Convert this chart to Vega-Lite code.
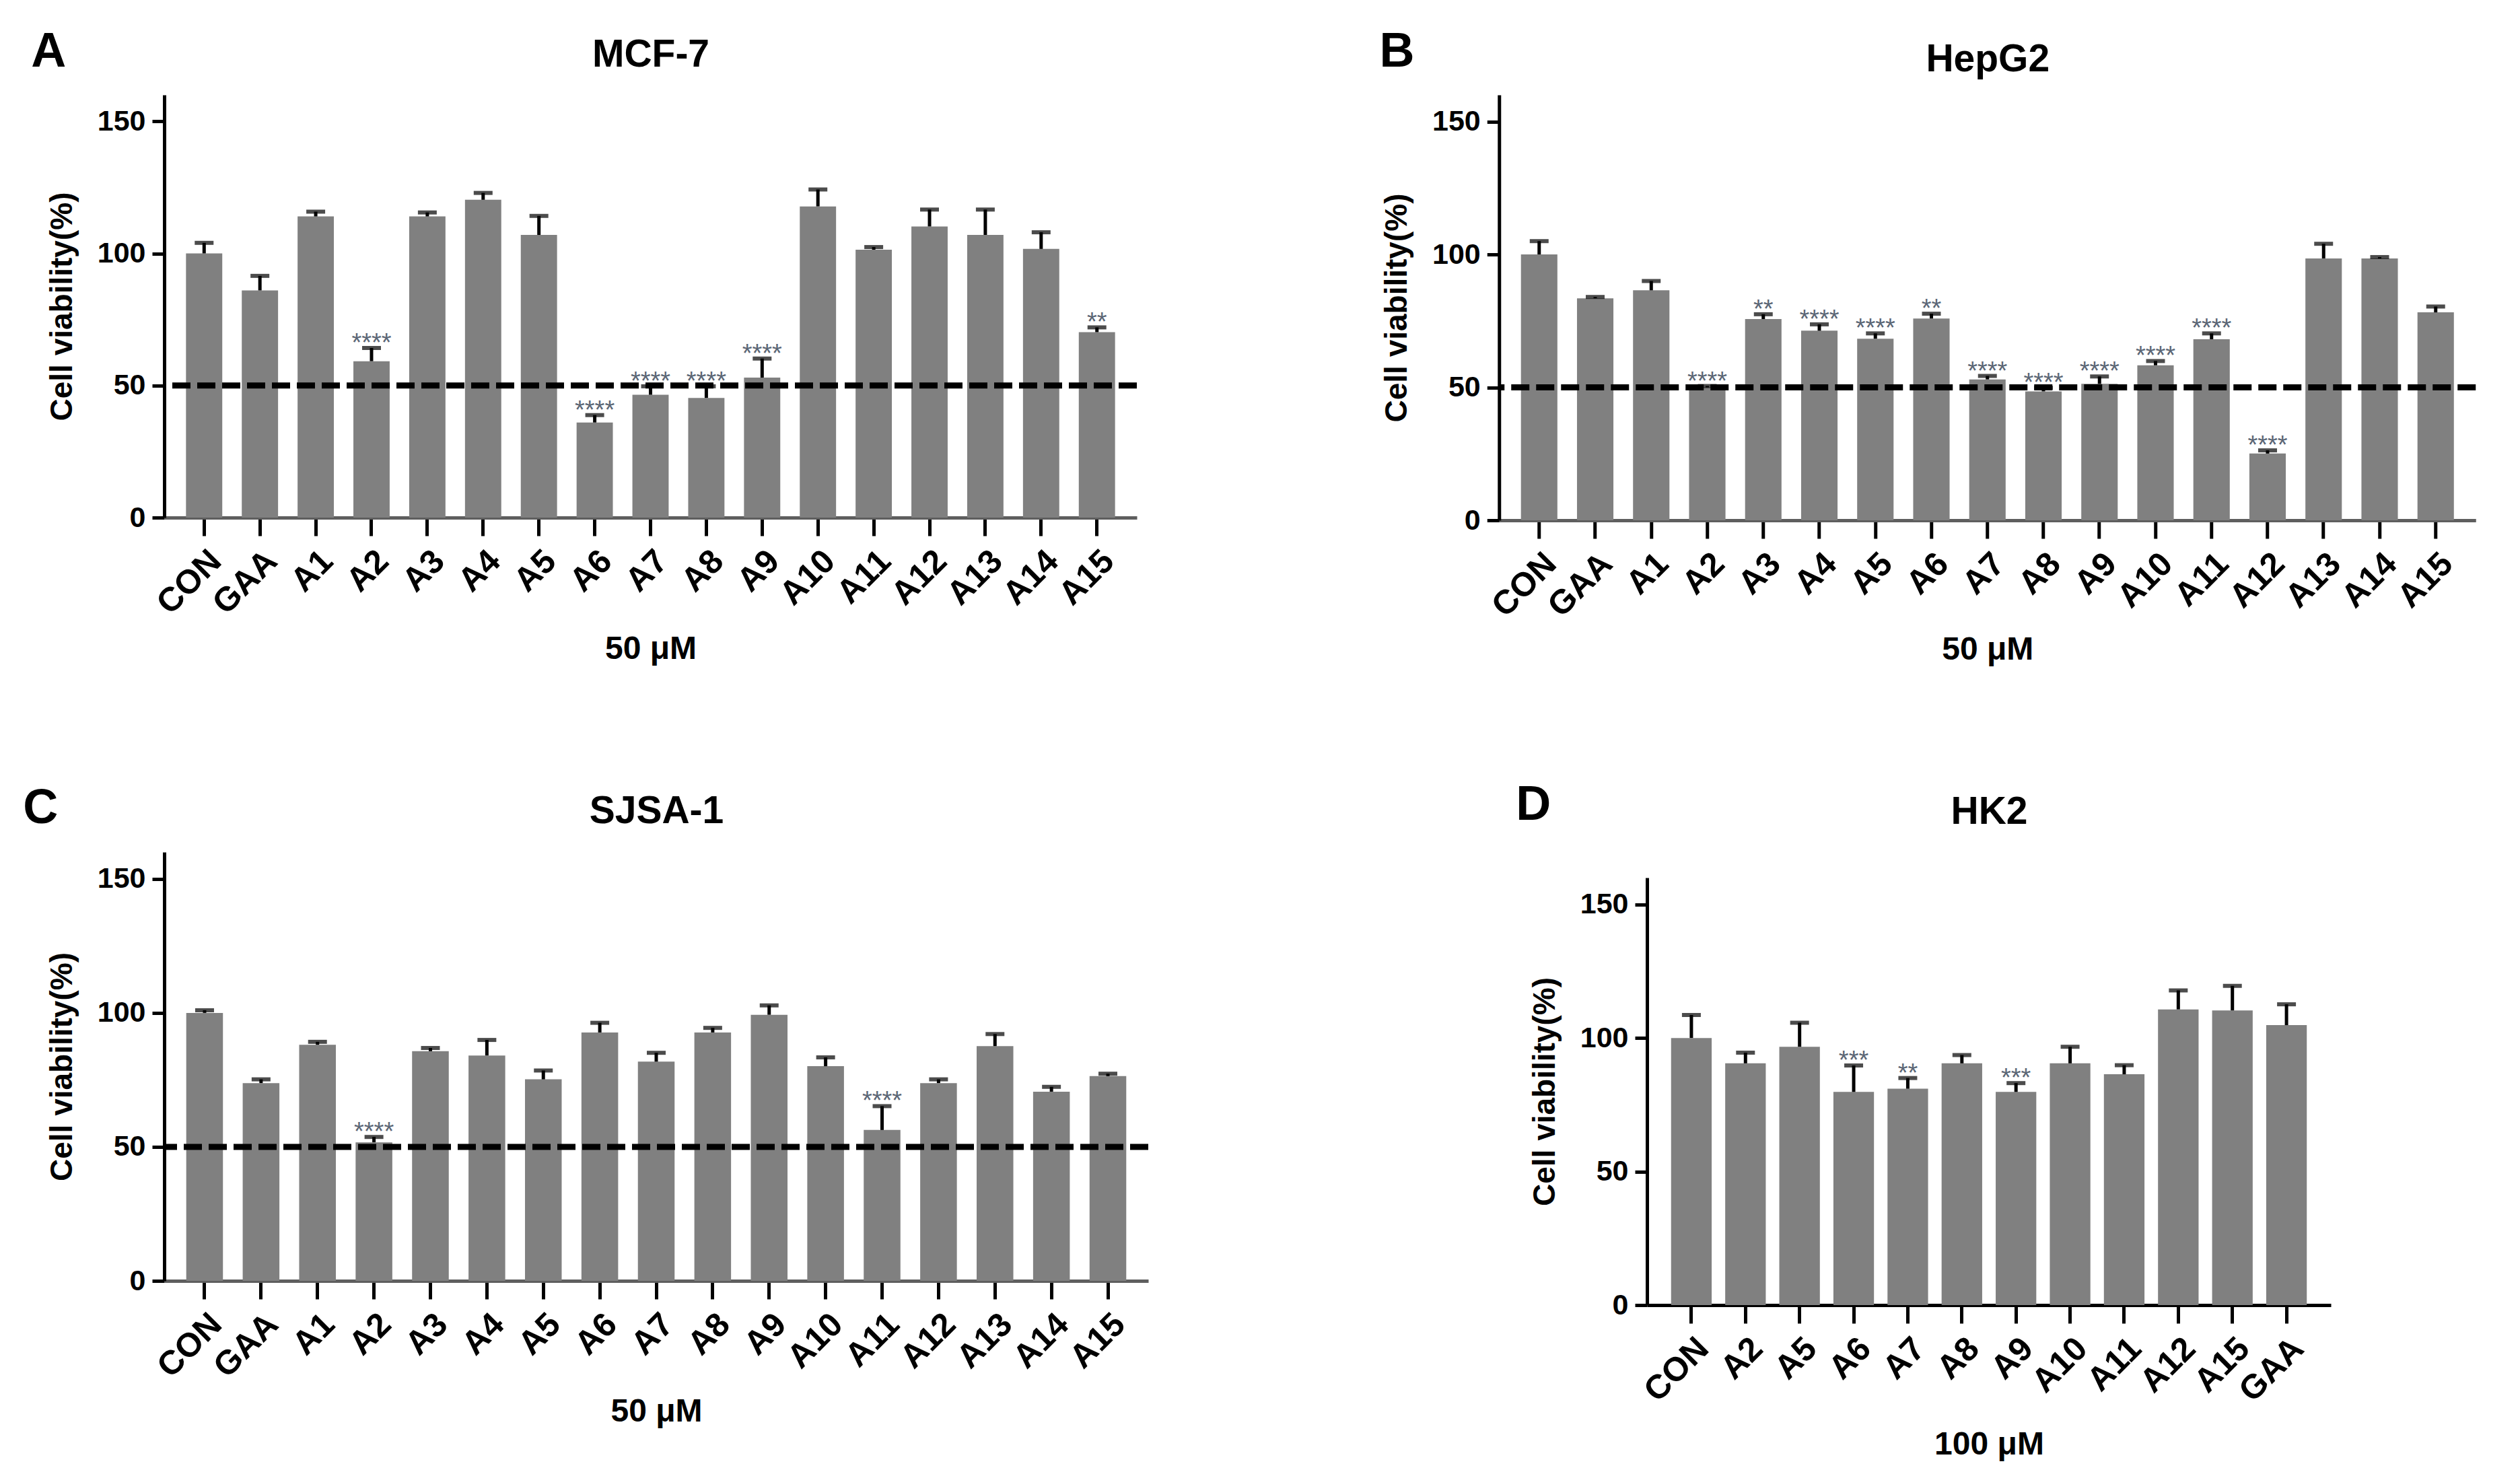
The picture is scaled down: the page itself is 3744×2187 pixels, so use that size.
{
  "$schema": "https://vega.github.io/schema/vega-lite/v6.json",
  "background": "white",
  "padding": {"left": 34, "top": 41, "right": 5, "bottom": 5},
  "datasets": {
    "mcf7": [
      {"g": "CON", "v": 100, "e": 104, "s": ""},
      {"g": "GAA", "v": 86, "e": 91.5, "s": ""},
      {"g": "A1", "v": 114, "e": 115.8, "s": ""},
      {"g": "A2", "v": 59.2, "e": 64.2, "s": "****"},
      {"g": "A3", "v": 114, "e": 115.5, "s": ""},
      {"g": "A4", "v": 120.3, "e": 122.9, "s": ""},
      {"g": "A5", "v": 107, "e": 114.2, "s": ""},
      {"g": "A6", "v": 36, "e": 38.8, "s": "****"},
      {"g": "A7", "v": 46.5, "e": 49.7, "s": "****"},
      {"g": "A8", "v": 45.3, "e": 49.7, "s": "****"},
      {"g": "A9", "v": 53, "e": 60.2, "s": "****"},
      {"g": "A10", "v": 117.8, "e": 124.2, "s": ""},
      {"g": "A11", "v": 101.4, "e": 102.4, "s": ""},
      {"g": "A12", "v": 110.2, "e": 116.6, "s": ""},
      {"g": "A13", "v": 107, "e": 116.6, "s": ""},
      {"g": "A14", "v": 101.7, "e": 108, "s": ""},
      {"g": "A15", "v": 70.2, "e": 72, "s": "**"}
    ],
    "hepg2": [
      {"g": "CON", "v": 100, "e": 105, "s": ""},
      {"g": "GAA", "v": 83.5, "e": 84, "s": ""},
      {"g": "A1", "v": 86.5, "e": 90, "s": ""},
      {"g": "A2", "v": 50, "e": 50.5, "s": "****"},
      {"g": "A3", "v": 75.7, "e": 77.5, "s": "**"},
      {"g": "A4", "v": 71.3, "e": 73.7, "s": "****"},
      {"g": "A5", "v": 68.3, "e": 70.3, "s": "****"},
      {"g": "A6", "v": 75.9, "e": 77.7, "s": "**"},
      {"g": "A7", "v": 53, "e": 54.3, "s": "****"},
      {"g": "A8", "v": 48.5, "e": 49.8, "s": "****"},
      {"g": "A9", "v": 51.3, "e": 54.1, "s": "****"},
      {"g": "A10", "v": 58.3, "e": 59.9, "s": "****"},
      {"g": "A11", "v": 68.1, "e": 70.3, "s": "****"},
      {"g": "A12", "v": 25.1, "e": 26.3, "s": "****"},
      {"g": "A13", "v": 98.5, "e": 104, "s": ""},
      {"g": "A14", "v": 98.5, "e": 99, "s": ""},
      {"g": "A15", "v": 78.2, "e": 80.4, "s": ""}
    ],
    "sjsa": [
      {"g": "CON", "v": 100, "e": 101, "s": ""},
      {"g": "GAA", "v": 73.8, "e": 75.2, "s": ""},
      {"g": "A1", "v": 88.1, "e": 89.2, "s": ""},
      {"g": "A2", "v": 51.7, "e": 53.7, "s": "****"},
      {"g": "A3", "v": 85.7, "e": 86.9, "s": ""},
      {"g": "A4", "v": 84.1, "e": 89.9, "s": ""},
      {"g": "A5", "v": 75.2, "e": 78.5, "s": ""},
      {"g": "A6", "v": 92.7, "e": 96.3, "s": ""},
      {"g": "A7", "v": 81.8, "e": 85.1, "s": ""},
      {"g": "A8", "v": 92.7, "e": 94.4, "s": ""},
      {"g": "A9", "v": 99.3, "e": 102.8, "s": ""},
      {"g": "A10", "v": 80.1, "e": 83.4, "s": ""},
      {"g": "A11", "v": 56.3, "e": 65.2, "s": "****"},
      {"g": "A12", "v": 73.8, "e": 75.2, "s": ""},
      {"g": "A13", "v": 87.6, "e": 92.1, "s": ""},
      {"g": "A14", "v": 70.6, "e": 72.4, "s": ""},
      {"g": "A15", "v": 76.4, "e": 77.3, "s": ""}
    ],
    "hk2": [
      {"g": "CON", "v": 100, "e": 108.6, "s": ""},
      {"g": "A2", "v": 90.5, "e": 94.5, "s": ""},
      {"g": "A5", "v": 96.7, "e": 105.7, "s": ""},
      {"g": "A6", "v": 79.8, "e": 89.7, "s": "***"},
      {"g": "A7", "v": 81, "e": 85, "s": "**"},
      {"g": "A8", "v": 90.5, "e": 93.6, "s": ""},
      {"g": "A9", "v": 79.8, "e": 83.1, "s": "***"},
      {"g": "A10", "v": 90.5, "e": 96.7, "s": ""},
      {"g": "A11", "v": 86.4, "e": 89.8, "s": ""},
      {"g": "A12", "v": 110.7, "e": 117.8, "s": ""},
      {"g": "A15", "v": 110.3, "e": 119.5, "s": ""},
      {"g": "GAA", "v": 104.8, "e": 112.6, "s": ""}
    ]
  },
  "config": {
    "font": "Liberation Sans",
    "view": {"stroke": null},
    "title": {"font": "Liberation Sans", "color": "black"},
    "axis": {"domainColor": "black", "domainWidth": 5, "tickColor": "black", "tickWidth": 5, "labelColor": "black", "labelFontWeight": "bold", "titleColor": "black", "titleFontWeight": "bold", "grid": false, "labelFont": "Liberation Sans", "titleFont": "Liberation Sans", "labelOverlap": false},
    "axisY": {"tickSize": 18, "labelFontSize": 43, "labelPadding": 10, "titleFontSize": 46, "titlePadding": 28},
    "axisBottom": {"tickSize": 27, "labelFontSize": 50, "labelAngle": -45, "labelPadding": 12, "titleFontSize": 48, "titlePadding": 19}
  },
  "spacing": 338,
  "hconcat": [
    {
      "spacing": 176,
      "vconcat": [
        {
          "width": 1445, "height": 628,
          "title": {"text": "A", "anchor": "start", "frame": "bounds", "dx": -23, "offset": -119, "baseline": "alphabetic", "fontSize": 72, "fontWeight": "bold"},
          "layer": [
            {"data": {"name": "mcf7"}, "mark": {"type": "bar", "color": "#808080"},
             "encoding": {
               "x": {"field": "g", "type": "nominal", "sort": null, "scale": {"paddingInner": 0.35, "paddingOuter": 0.39}, "axis": {"orient": "bottom", "title": "50 μM", "domainColor": "#5e5e5e"}},
               "y": {"field": "v", "type": "quantitative", "scale": {"domain": [0, 150]}, "axis": {"title": "Cell viability(%)", "values": [0, 50, 100, 150]}}}},
            {"data": {"values": [{}]}, "mark": {"type": "rule", "color": "black", "strokeWidth": 9, "strokeDash": [27, 10]},
             "encoding": {"y": {"datum": 50, "type": "quantitative", "axis": {"title": "Cell viability(%)", "values": [0, 50, 100, 150]}}}},
            {"data": {"name": "mcf7"}, "mark": {"type": "rule", "color": "black", "strokeWidth": 5},
             "encoding": {
               "x": {"field": "g", "type": "nominal", "sort": null, "axis": {"orient": "top", "title": "MCF-7", "labels": false, "ticks": false, "domain": false, "titlePadding": 31, "titleFontSize": 57}},
               "y": {"field": "v", "type": "quantitative", "axis": {"title": "Cell viability(%)", "values": [0, 50, 100, 150]}}, "y2": {"field": "e"}}},
            {"data": {"name": "mcf7"}, "mark": {"type": "tick", "color": "black", "thickness": 6, "size": 28},
             "encoding": {"x": {"field": "g", "type": "nominal", "sort": null, "axis": null}, "y": {"field": "e", "type": "quantitative", "axis": {"title": "Cell viability(%)", "values": [0, 50, 100, 150]}}}},
            {"data": {"name": "mcf7"}, "mark": {"type": "text", "fontSize": 38, "color": "#5b6675", "baseline": "alphabetic", "dy": 5},
             "encoding": {"x": {"field": "g", "type": "nominal", "sort": null, "axis": null}, "y": {"field": "e", "type": "quantitative", "axis": {"title": "Cell viability(%)", "values": [0, 50, 100, 150]}}, "text": {"field": "s"}}}
          ],
          "resolve": {"axis": {"x": "independent"}}
        },
        {
          "width": 1462, "height": 637,
          "title": {"text": "C", "anchor": "start", "frame": "bounds", "dx": -35, "offset": -119, "baseline": "alphabetic", "fontSize": 72, "fontWeight": "bold"},
          "layer": [
            {"data": {"name": "sjsa"}, "mark": {"type": "bar", "color": "#808080"},
             "encoding": {
               "x": {"field": "g", "type": "nominal", "sort": null, "scale": {"paddingInner": 0.35, "paddingOuter": 0.39}, "axis": {"orient": "bottom", "title": "50 μM", "domainColor": "#5e5e5e", "titlePadding": 18}},
               "y": {"field": "v", "type": "quantitative", "scale": {"domain": [0, 150]}, "axis": {"title": "Cell viability(%)", "values": [0, 50, 100, 150]}}}},
            {"data": {"values": [{}]}, "mark": {"type": "rule", "color": "black", "strokeWidth": 9, "strokeDash": [27, 10]},
             "encoding": {"y": {"datum": 50, "type": "quantitative", "axis": {"title": "Cell viability(%)", "values": [0, 50, 100, 150]}}}},
            {"data": {"name": "sjsa"}, "mark": {"type": "rule", "color": "black", "strokeWidth": 5},
             "encoding": {
               "x": {"field": "g", "type": "nominal", "sort": null, "axis": {"orient": "top", "title": "SJSA-1", "labels": false, "ticks": false, "domain": false, "titlePadding": 32, "titleFontSize": 57}},
               "y": {"field": "v", "type": "quantitative", "axis": {"title": "Cell viability(%)", "values": [0, 50, 100, 150]}}, "y2": {"field": "e"}}},
            {"data": {"name": "sjsa"}, "mark": {"type": "tick", "color": "black", "thickness": 6, "size": 28},
             "encoding": {"x": {"field": "g", "type": "nominal", "sort": null, "axis": null}, "y": {"field": "e", "type": "quantitative", "axis": {"title": "Cell viability(%)", "values": [0, 50, 100, 150]}}}},
            {"data": {"name": "sjsa"}, "mark": {"type": "text", "fontSize": 38, "color": "#5b6675", "baseline": "alphabetic", "dy": 5},
             "encoding": {"x": {"field": "g", "type": "nominal", "sort": null, "axis": null}, "y": {"field": "e", "type": "quantitative", "axis": {"title": "Cell viability(%)", "values": [0, 50, 100, 150]}}, "text": {"field": "s"}}}
          ],
          "resolve": {"axis": {"x": "independent"}}
        }
      ]
    },
    {
      "spacing": 170,
      "center": true,
      "vconcat": [
        {
          "width": 1451, "height": 632,
          "title": {"text": "B", "anchor": "start", "frame": "bounds", "dx": -3, "offset": -112, "baseline": "alphabetic", "fontSize": 72, "fontWeight": "bold"},
          "layer": [
            {"data": {"name": "hepg2"}, "mark": {"type": "bar", "color": "#808080"},
             "encoding": {
               "x": {"field": "g", "type": "nominal", "sort": null, "scale": {"paddingInner": 0.35, "paddingOuter": 0.39}, "axis": {"orient": "bottom", "title": "50 μM", "domainColor": "#5e5e5e", "titlePadding": 16}},
               "y": {"field": "v", "type": "quantitative", "scale": {"domain": [0, 150]}, "axis": {"title": "Cell viability(%)", "values": [0, 50, 100, 150]}}}},
            {"data": {"values": [{}]}, "mark": {"type": "rule", "color": "black", "strokeWidth": 9, "strokeDash": [27, 10]},
             "encoding": {"y": {"datum": 50, "type": "quantitative", "axis": {"title": "Cell viability(%)", "values": [0, 50, 100, 150]}}}},
            {"data": {"name": "hepg2"}, "mark": {"type": "rule", "color": "black", "strokeWidth": 5},
             "encoding": {
               "x": {"field": "g", "type": "nominal", "sort": null, "axis": {"orient": "top", "title": "HepG2", "labels": false, "ticks": false, "domain": false, "titlePadding": 24, "titleFontSize": 57}},
               "y": {"field": "v", "type": "quantitative", "axis": {"title": "Cell viability(%)", "values": [0, 50, 100, 150]}}, "y2": {"field": "e"}}},
            {"data": {"name": "hepg2"}, "mark": {"type": "tick", "color": "black", "thickness": 6, "size": 28},
             "encoding": {"x": {"field": "g", "type": "nominal", "sort": null, "axis": null}, "y": {"field": "e", "type": "quantitative", "axis": {"title": "Cell viability(%)", "values": [0, 50, 100, 150]}}}},
            {"data": {"name": "hepg2"}, "mark": {"type": "text", "fontSize": 38, "color": "#5b6675", "baseline": "alphabetic", "dy": 5},
             "encoding": {"x": {"field": "g", "type": "nominal", "sort": null, "axis": null}, "y": {"field": "e", "type": "quantitative", "axis": {"title": "Cell viability(%)", "values": [0, 50, 100, 150]}}, "text": {"field": "s"}}}
          ],
          "resolve": {"axis": {"x": "independent"}}
        },
        {
          "width": 1016, "height": 635,
          "title": {"text": "D", "anchor": "start", "frame": "bounds", "dx": -20, "offset": -113, "baseline": "alphabetic", "fontSize": 72, "fontWeight": "bold"},
          "layer": [
            {"data": {"name": "hk2"}, "mark": {"type": "bar", "color": "#808080"},
             "encoding": {
               "x": {"field": "g", "type": "nominal", "sort": null, "scale": {"paddingInner": 0.25, "paddingOuter": 0.445}, "axis": {"orient": "bottom", "title": "100 μM", "titlePadding": 31}},
               "y": {"field": "v", "type": "quantitative", "scale": {"domain": [0, 150]}, "axis": {"title": "Cell viability(%)", "values": [0, 50, 100, 150]}}}},
            {"data": {"name": "hk2"}, "mark": {"type": "rule", "color": "black", "strokeWidth": 5},
             "encoding": {
               "x": {"field": "g", "type": "nominal", "sort": null, "axis": {"orient": "top", "title": "HK2", "labels": false, "ticks": false, "domain": false, "titlePadding": 69, "titleFontSize": 57}},
               "y": {"field": "v", "type": "quantitative", "axis": {"title": "Cell viability(%)", "values": [0, 50, 100, 150]}}, "y2": {"field": "e"}}},
            {"data": {"name": "hk2"}, "mark": {"type": "tick", "color": "black", "thickness": 6, "size": 28},
             "encoding": {"x": {"field": "g", "type": "nominal", "sort": null, "axis": null}, "y": {"field": "e", "type": "quantitative", "axis": {"title": "Cell viability(%)", "values": [0, 50, 100, 150]}}}},
            {"data": {"name": "hk2"}, "mark": {"type": "text", "fontSize": 38, "color": "#5b6675", "baseline": "alphabetic", "dy": 5},
             "encoding": {"x": {"field": "g", "type": "nominal", "sort": null, "axis": null}, "y": {"field": "e", "type": "quantitative", "axis": {"title": "Cell viability(%)", "values": [0, 50, 100, 150]}}, "text": {"field": "s"}}}
          ],
          "resolve": {"axis": {"x": "independent"}}
        }
      ]
    }
  ]
}
